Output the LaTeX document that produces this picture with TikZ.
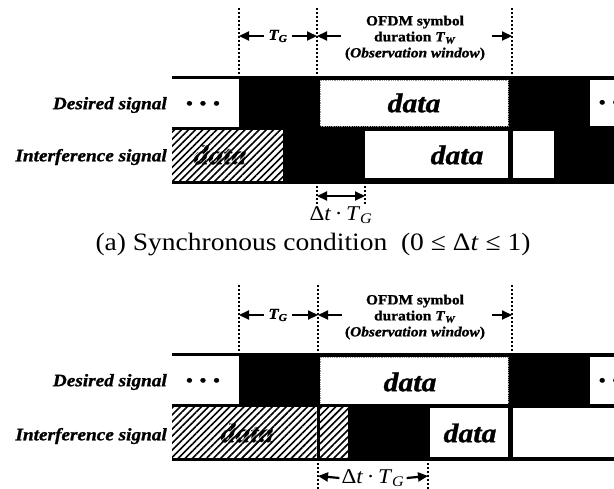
\documentclass[tikz,border=0pt]{standalone}
\usepackage{fontspec}
\setmainfont{Liberation Serif}[FakeStretch=1.1,
  BoldFeatures={FakeBold=1.2}, BoldItalicFeatures={FakeBold=1.2}]
\usetikzlibrary{arrows.meta,patterns.meta}

\newcommand\fsz[1]{\fontsize{#1}{#1}\selectfont}
\newcommand\TGsym{\textit{T}\textsubscript{\textit{G}}}
\newcommand\TWsym{\textit{T}\textsubscript{\textit{W}}}
\newcommand\dtTG{Δ\textit{t}\,·\,\TGsym}
\newcommand\bullets[1]{\foreach \k in {1,...,#1}{\ifnum\k>1\hspace{7pt}\fi•}}

\tikzset{
  guide/.style={line width=1.1pt, dash pattern=on 2.4pt off 1.6pt},
  dim/.style={line width=2.2pt, -{Triangle[length=10pt,width=9pt]}},
  dimboth/.style={line width=2.2pt, {Triangle[length=10pt,width=9pt]}-{Triangle[length=10pt,width=9pt]}},
  edge/.style={line width=3pt},
  obsbox/.style={fill=white, draw=gray!80, densely dotted, line width=0.8pt},
  hatch/.style={fill=white, postaction={pattern={Lines[angle=45,distance=5pt,line width=1.6pt]}}},
  hatchtxt/.style={pattern={Lines[angle=45,distance=5pt,line width=0.6pt,yshift=2.5pt]}, pattern color=white},
  sig/.style={font=\fsz{17.5}\bfseries\itshape, anchor=east, inner sep=0pt},
  datatxt/.style={font=\fsz{27}\bfseries\itshape, inner sep=0pt},
  hdr/.style={font=\fontsize{14}{16}\selectfont\bfseries, align=center, inner sep=0pt},
  tglbl/.style={font=\fsz{15}\bfseries\itshape, inner sep=1pt},
  dtlbl/.style={font=\fsz{21}, inner sep=1pt},
  caption/.style={font=\fsz{25}},
  dotrow/.style={font=\fsz{17}\bfseries, inner sep=0pt},
}

\begin{document}
\begin{tikzpicture}[x=1pt,y=-1pt]
\useasboundingbox (0,0) rectangle (614,488);

% ---------- (a) synchronous condition ----------
% signal strips
\fill (239,76) rectangle (614,183);
\path[obsbox] (320,80) rectangle (508,126);
\fill[white] (590,80) rectangle (614,126);
\path[hatch] (172,129.5) rectangle (283,180.5);
\fill[white] (365,131) rectangle (508,178);
\fill[white] (513,131) rectangle (554,178);
\draw[edge] (172,77) -- (614,77) (172,128) -- (614,128) (172,182) -- (614,182);

\node[sig] (ds1) at (167,105) {Desired signal};
\node[sig] (is1) at (167,157) {Interference signal};
\node[dotrow] (dl1) at (203,105) {\bullets{3}};
\node[dotrow] (dr1) at (609,104) {\bullets{2}};
\node[datatxt] (d1) at (414,103) {data};
\node[datatxt] (i1) at (457,155) {data};
\node[datatxt] (h1) at (220,155) {data};
\fill[hatchtxt] (h1.south west) rectangle (h1.north east);

% timing guides
\coordinate (ga1) at (239,8);  \coordinate (gb1) at (239,77);
\coordinate (ha1) at (317,8);  \coordinate (hb1) at (317,77);
\coordinate (ka1) at (512,8);  \coordinate (kb1) at (512,77);
\draw[guide] (ga1) -- (gb1) (ha1) -- (hb1) (ka1) -- (kb1);

\node[tglbl] (tg1) at (278,36) {\TGsym};
\coordinate (tgl1) at (239,36); \coordinate (tgr1) at (317,36);
\coordinate (tws1) at (341,36); \coordinate (twe1) at (492,36); \coordinate (twr1) at (512,36);
\draw[dim] ([xshift=-3pt]tg1.west) -- (tgl1);
\draw[dim] ([xshift=3pt]tg1.east) -- (tgr1);
\draw[dim] (tws1) -- (tgr1);
\draw[dim] (twe1) -- (twr1);
\node[hdr] (ofdm1) at (415,38) {OFDM symbol\\duration \TWsym\\(\textit{Observation window})};

% offset of the interfering symbol
\coordinate (sa1) at (317,182); \coordinate (sb1) at (317,205);
\coordinate (ta1) at (365,182); \coordinate (tb1) at (365,205);
\draw[guide] (sa1) -- (sb1) (ta1) -- (tb1);
\coordinate (ol1) at (317,196); \coordinate (or1) at (365,196);
\draw[dimboth] (ol1) -- (or1);
\node[dtlbl] (dt1) at (341,215) {\dtTG};

\node[caption] (capa) at (313,245) {(a) Synchronous condition\ \ (0 ≤ Δ\textit{t} ≤ 1)};

% ---------- (b) second case ----------
\begin{scope}[yshift=-277pt]
\fill (239,76) rectangle (614,183);
\path[obsbox] (320,80) rectangle (508,127);
\fill[white] (590,80) rectangle (614,127);
\path[hatch] (172,129.5) rectangle (316.5,180.5);
\path[hatch] (319.5,129.5) rectangle (348,180.5);
\fill[white] (430,131) rectangle (508,180);
\fill[white] (513,131) rectangle (614,180);
\draw[edge] (172,77) -- (614,77) (172,128) -- (614,128) (172,182) -- (614,182);

\node[sig] (ds2) at (167,105) {Desired signal};
\node[sig] (is2) at (167,159) {Interference signal};
\node[dotrow] (dl2) at (203,105) {\bullets{3}};
\node[dotrow] (dr2) at (609,105) {\bullets{2}};
\node[datatxt] (d2) at (410,105) {data};
\node[datatxt] (i2) at (470,156) {data};
\node[datatxt] (h2) at (247,156) {data};
\fill[hatchtxt] (h2.south west) rectangle (h2.north east);

\coordinate (ga2) at (239,8);  \coordinate (gb2) at (239,77);
\coordinate (ha2) at (318,8);  \coordinate (hb2) at (318,77);
\coordinate (ka2) at (512,8);  \coordinate (kb2) at (512,77);
\draw[guide] (ga2) -- (gb2) (ha2) -- (hb2) (ka2) -- (kb2);

\node[tglbl] (tg2) at (278,38) {\TGsym};
\coordinate (tgl2) at (239,38); \coordinate (tgr2) at (318,38);
\coordinate (tws2) at (342,38); \coordinate (twe2) at (492,38); \coordinate (twr2) at (512,38);
\draw[dim] ([xshift=-3pt]tg2.west) -- (tgl2);
\draw[dim] ([xshift=3pt]tg2.east) -- (tgr2);
\draw[dim] (tws2) -- (tgr2);
\draw[dim] (twe2) -- (twr2);
\node[hdr] (ofdm2) at (415,40) {OFDM symbol\\duration \TWsym\\(\textit{Observation window})};

\coordinate (sa2) at (318,182); \coordinate (sb2) at (318,212);
\coordinate (ta2) at (428,182); \coordinate (tb2) at (428,212);
\draw[guide] (sa2) -- (sb2) (ta2) -- (tb2);
\node[dtlbl] (dt2) at (373,201) {\dtTG};
\coordinate (ol2) at (318,199); \coordinate (or2) at (428,199);
\draw[dim] ([xshift=-1pt]dt2.west) -- (ol2);
\draw[dim] ([xshift=1pt]dt2.east) -- (or2);
\end{scope}
\end{tikzpicture}
\end{document}
